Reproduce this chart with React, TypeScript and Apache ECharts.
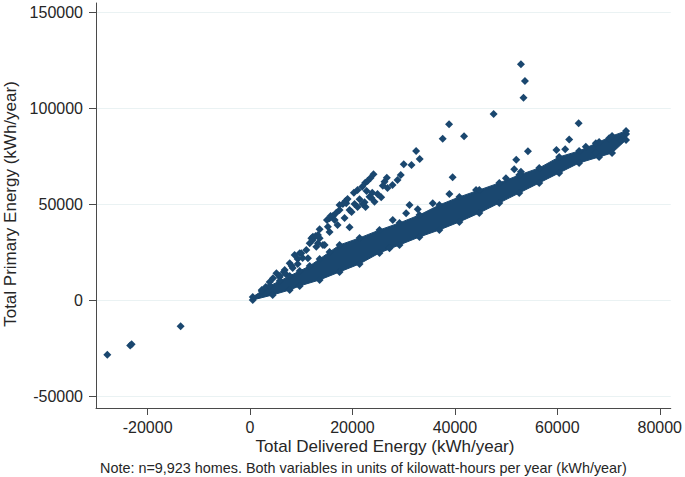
import React, { useEffect, useRef } from "react";
import * as echarts from "echarts";

const xTickValues = [-20000, 0, 20000, 40000, 60000, 80000];
const yTickValues = [-50000, 0, 50000, 100000, 150000];

// isolated homes with negative delivered energy
const negativePoints = [
  [-27870, -28120],
  [-23120, -22700],
  [-23400, -23300],
  [-13560, -13330],
];

// high outliers above the main band
const highOutliers = [
  [52900, 123120], [53680, 114420], [53400, 105720], [47560, 97230],
  [38860, 91870], [37620, 84370], [41790, 85620], [64160, 92390],
  [62310, 83950], [54260, 77810], [51980, 73430], [39560, 64270],
  [38920, 55570], [73420, 86820], [72390, 83430], [59830, 78480],
  [61530, 78850], [51590, 68430], [52900, 67180], [65560, 80200],
  [67510, 81970], [70110, 84580], [67510, 77080], [31130, 49840],
  [32740, 47600], [30480, 45520], [27870, 42030], [19430, 38230],
  [44130, 57650], [49970, 63750], [35670, 50730], [27230, 27290],
];

// secondary (steeper) branch
const upperBranch = [
  [32430, 77960], [33130, 73800], [30010, 71040], [29430, 65460],
  [24110, 65830], [26700, 64060], [26250, 61980], [25920, 59890],
  [22490, 61450], [21910, 59370], [20270, 56250], [22750, 57130],
  [23860, 56250], [23330, 54160], [25610, 53850], [24300, 51560],
  [22360, 51250], [22550, 48800], [21380, 52810], [20410, 50360],
  [18650, 51920], [18130, 50360], [19430, 47240], [17480, 47240],
  [16840, 45830], [16180, 44110], [16510, 42030], [15010, 42030],
  [15200, 38540], [13580, 37190], [13250, 34220], [11970, 32500],
  [13580, 32500], [14230, 29010], [12940, 28120], [11640, 29890],
  [10990, 26400], [9690, 24690], [8710, 23800], [11300, 22080],
  [10020, 24690], [7740, 19480], [6760, 15990], [5150, 14270],
  [4480, 11670], [14560, 29010], [17480, 49840], [18790, 50730],
  [15530, 42910], [12280, 33330], [13250, 29890],
  [12220, 31610], [12800, 33700], [15730, 44110], [19040, 52960],
  [20990, 57650], [22940, 62340], [23520, 63900], [15530, 35780],
  [17090, 39420], [18460, 43070], [19820, 46190], [20990, 48800],
  [21970, 50360], [23720, 53490], [24890, 55570], [26840, 58690],
  [27810, 60260], [28790, 62860], [31520, 70670], [5790, 12340],
  [6570, 14950], [8130, 18070], [9300, 21720],
  [3840, 9740], [3060, 7130], [2280, 5570], [5790, 12860],
  [6960, 13910], [8320, 17030], [9300, 19110], [10270, 22240],
];

// outline of the dense main band
const bandTop = [
  [526, 1930], [2280, 5050], [3840, 7660], [5790, 10260], [7740, 12860],
  [9690, 15470], [11640, 18070], [13580, 21720], [15530, 25360], [17480, 29010],
  [21380, 32660], [25280, 36820], [29180, 40470], [33080, 44630], [36970, 49840],
  [40870, 54010], [44770, 57650], [48670, 61300], [52570, 65460], [56470, 69110],
  [60360, 74840], [64260, 77960], [68160, 82650], [70690, 85780], [73420, 88380],
];
const bandBottom = [
  [526, 360], [4420, 2970], [7740, 5570], [9690, 7660], [13580, 10780],
  [17480, 14950], [21380, 19120], [25280, 24850], [29180, 29010], [33080, 33170],
  [36970, 36820], [40870, 40990], [44770, 45670], [48670, 50880], [52570, 56090],
  [56470, 61300], [60360, 66510], [64260, 71710], [68160, 74840], [70690, 76920],
  [73420, 83700],
];

const NAVY = "#1a476f";
const FONT = "'Liberation Sans', Arial, sans-serif";
const TEXT = "#262626";

export default function App() {
  const ref = useRef<HTMLDivElement>(null);
  useEffect(() => {
    if (!ref.current) return;
    const chart = echarts.init(ref.current, null, { renderer: "svg" });
    const polygon = [...bandTop, ...[...bandBottom].reverse()];
    const allPoints = [
      ...negativePoints,
      ...highOutliers,
      ...upperBranch,
      ...bandTop,
      ...bandBottom,
    ];
    const plain = (v: number) => String(v);
    chart.setOption({
      animation: false,
      backgroundColor: "#ffffff",
      grid: { left: 96, right: 13, top: 3, bottom: 69, containLabel: false },
      xAxis: {
        type: "value",
        min: -30080,
        max: 82150,
        axisLine: { show: true, onZero: false, lineStyle: { color: "#4a4a4a", width: 1 } },
        axisTick: { show: true, length: 7, customValues: xTickValues, lineStyle: { color: "#4a4a4a" } },
        axisLabel: {
          customValues: xTickValues,
          formatter: plain,
          margin: 11,
          fontSize: 16,
          fontFamily: FONT,
          color: TEXT,
        },
        splitLine: { show: false },
      },
      yAxis: {
        type: "value",
        min: -55900,
        max: 155000,
        axisLine: { show: true, onZero: false, lineStyle: { color: "#4a4a4a", width: 1 } },
        axisTick: { show: true, length: 7, customValues: yTickValues, lineStyle: { color: "#4a4a4a" } },
        axisLabel: {
          customValues: yTickValues,
          formatter: plain,
          margin: 13,
          fontSize: 16,
          fontFamily: FONT,
          color: TEXT,
        },
        splitLine: { show: true, lineStyle: { color: "#eaf2f3", width: 1 } },
      },
      graphic: [
        {
          type: "text",
          x: 385,
          y: 446,
          style: {
            text: "Total Delivered Energy (kWh/year)",
            fontSize: 17,
            fontFamily: FONT,
            fill: TEXT,
            align: "center",
            verticalAlign: "middle",
          },
        },
        {
          type: "text",
          x: 10.5,
          y: 204,
          rotation: Math.PI / 2,
          style: {
            text: "Total Primary Energy (kWh/year)",
            fontSize: 17,
            fontFamily: FONT,
            fill: TEXT,
            align: "center",
            verticalAlign: "middle",
          },
        },
        {
          type: "text",
          x: 100,
          y: 467.5,
          style: {
            text: "Note: n=9,923 homes. Both variables in units of kilowatt-hours per year (kWh/year)",
            fontSize: 14.4,
            fontFamily: FONT,
            fill: TEXT,
            align: "left",
            verticalAlign: "middle",
          },
        },
      ],
      series: [
        {
          type: "custom",
          coordinateSystem: "cartesian2d",
          silent: true,
          data: [[0, 0]],
          renderItem: (_params: any, api: any) => ({
            type: "polygon",
            shape: { points: polygon.map((p) => api.coord(p)) },
            style: { fill: NAVY, stroke: NAVY, lineWidth: 1 },
          }),
          z: 2,
        },
        {
          type: "scatter",
          symbol: "diamond",
          symbolSize: 8,
          data: allPoints,
          itemStyle: { color: NAVY, opacity: 1 },
          z: 3,
        },
      ],
    });
    return () => chart.dispose();
  }, []);
  return <div ref={ref} style={{ width: 685, height: 477, position: "absolute", left: 0, top: 0 }} />;
}
